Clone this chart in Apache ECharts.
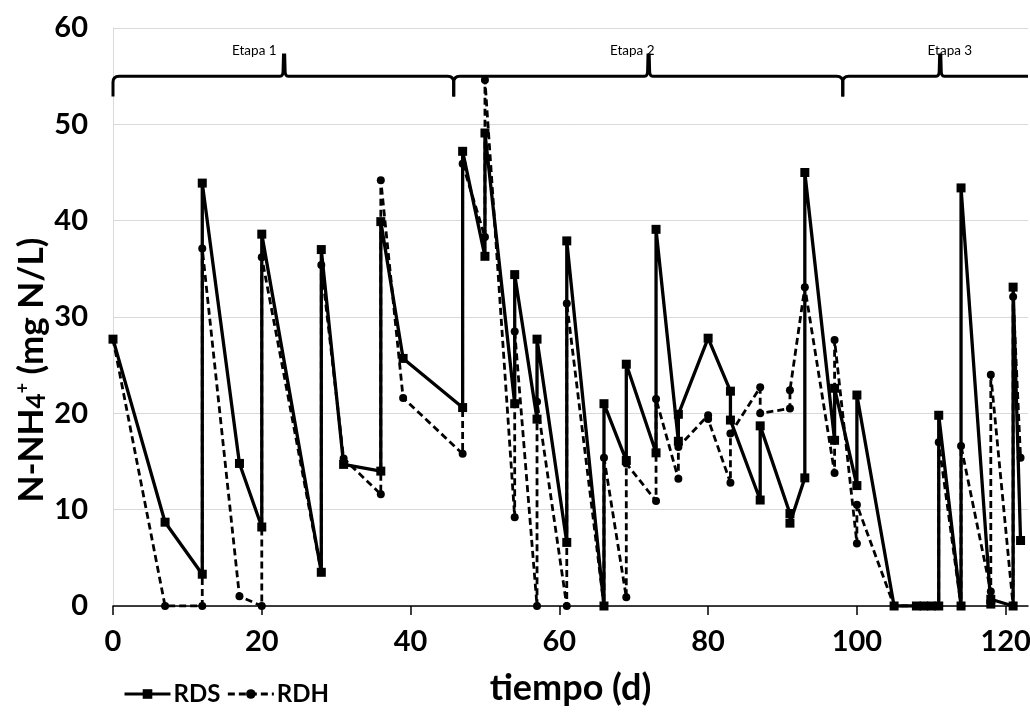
<!DOCTYPE html>
<html>
<head>
<meta charset="utf-8">
<script src="https://cdn.jsdelivr.net/npm/echarts@6/dist/echarts.min.js"></script>
<style>
html,body{margin:0;padding:0;background:#fff;}
#chart{width:1030px;height:713px;}
</style>
</head>
<body>
<div id="chart"></div>
<script>
// ---- data ----
const rdsDays = [0,7,12,12,17,20,20,28,28,31,36,36,39,47,47,50,50,54,54,57,57,61,61,66,66,69,69,73,73,76,76,80,83,83,87,87,91,91,93,93,97,97,100,100,105,108,109,110,111,111,114,114,118,118,121,121,122];
const rdsValues = [27.7,8.7,3.3,43.9,14.8,8.2,38.6,3.5,37.0,14.7,14.0,39.9,25.7,20.6,47.2,36.3,49.1,21.0,34.4,19.4,27.7,6.6,37.9,0,21.0,15.1,25.1,15.9,39.1,17.1,19.9,27.8,22.3,19.3,11.0,18.7,9.6,8.6,13.3,45.0,17.2,22.6,12.5,21.9,0,0,0,0,0,19.8,0,43.4,0.2,0.7,0,33.1,6.8];
const rdhDays = [0,7,12,12,17,20,20,28,28,31,36,36,39,47,47,50,50,54,54,57,57,61,61,66,66,69,69,73,73,76,76,80,80,83,83,87,87,91,91,93,97,97,100,100,105,108,109,110,111,111,114,114,118,118,121,121,122];
const rdhValues = [27.7,0,0,37.1,1.0,0,36.2,3.5,35.4,15.3,11.6,44.2,21.6,15.8,45.9,38.3,54.6,9.2,28.5,0,21.2,0,31.4,0,15.4,0.9,14.8,10.9,21.5,13.2,16.5,19.8,19.4,12.8,17.9,22.7,20.0,20.5,22.4,33.1,13.8,27.6,6.5,10.5,0,0,0,0,0,17.0,0,16.6,1.5,24.0,0,32.1,15.4];
const xTicks = [0,20,40,60,80,100,120];
const yTicks = [0,10,20,30,40,50,60];
// stage braces (days)
const stageNames = ['Etapa 1','Etapa 2','Etapa 3'];
const stageStart = [0,45.8,98.1];
const stageMid = [23.0,72.0,111.2];
const stageEnd = [45.8,98.1,123];
const stageLabelX = [19.0,69.8,112.5];
const braceLevel = 55, braceHook = 52.9, braceTip = 57.2, stageLabelY = 57.6;

const FONT = 'Lato, "Open Sans", sans-serif';
const zip = (a,b)=>a.map((v,i)=>[v,b[i]]);

const chart = echarts.init(document.getElementById('chart'));
chart.setOption({
  animation:false,
  backgroundColor:'#fff',
  grid:{left:113,right:2,top:28,bottom:107,containLabel:false,outerBoundsMode:'none'},
  legend:{
    left:118, top:677, itemWidth:46, itemHeight:12, itemGap:6,
    lineStyle:{width:3},
    textStyle:{fontSize:24,fontWeight:'bold',color:'#000',fontFamily:FONT,padding:[0,0,0,-2]},
    data:['RDS','RDH']
  },
  xAxis:{
    type:'value', min:0, max:123, interval:20,
    name:'tiempo (d)', nameLocation:'middle', nameGap:64,
    nameTextStyle:{fontSize:36,fontWeight:'bold',color:'#000',fontFamily:FONT},
    axisLine:{show:true,lineStyle:{color:'#000',width:1.5}},
    axisTick:{show:true,length:9,lineStyle:{color:'#000',width:1.5},customValues:xTicks},
    axisLabel:{fontSize:29,fontWeight:'bold',color:'#000',fontFamily:FONT,margin:21,customValues:xTicks},
    splitLine:{show:false}
  },
  yAxis:{
    type:'value', min:0, max:60, interval:10,
    axisLine:{show:true,lineStyle:{color:'#d9d9d9',width:1}},
    axisTick:{show:false},
    axisLabel:{fontSize:29,fontWeight:'bold',color:'#000',fontFamily:FONT,margin:25,customValues:yTicks},
    splitLine:{show:true,lineStyle:{color:'#d9d9d9',width:1}}
  },
  graphic:[{
    type:'text', x:32, y:370, rotation:Math.PI/2,
    style:{
      text:'{n|N-NH}{s|4}{p|+}{n| (mg N/L)}',
      align:'center', verticalAlign:'middle', fill:'#000',
      rich:{
        n:{fontSize:35,fontWeight:'bold',fontFamily:FONT,fill:'#000'},
        s:{fontSize:26,fontWeight:'bold',fontFamily:FONT,fill:'#000',verticalAlign:'bottom'},
        p:{fontSize:18,fontWeight:'bold',fontFamily:FONT,fill:'#000',verticalAlign:'top'}
      }
    }
  }],
  series:[
    {
      name:'RDS', type:'line', data:zip(rdsDays,rdsValues),
      symbol:'rect', symbolSize:9, showAllSymbol:true,
      lineStyle:{color:'#000',width:3.3,type:'solid'},
      itemStyle:{color:'#000'}, z:3
    },
    {
      name:'RDH', type:'line', data:zip(rdhDays,rdhValues),
      symbol:'circle', symbolSize:8, showAllSymbol:true,
      lineStyle:{color:'#000',width:2.8,type:[7,4]},
      itemStyle:{color:'#000'}, z:4
    },
    {
      type:'custom', silent:true, z:5,
      data:stageNames.map((n,i)=>[stageStart[i],stageMid[i],stageEnd[i],stageLabelX[i]]),
      renderItem:function(params,api){
        const i = params.dataIndex;
        const x0 = api.coord([api.value(0),braceLevel])[0];
        const xm = api.coord([api.value(1),braceLevel])[0];
        const x1 = api.coord([api.value(2),braceLevel])[0];
        const xl = api.coord([api.value(3),braceLevel])[0];
        const yL = api.coord([0,braceLevel])[1];
        const yH = api.coord([0,braceHook])[1];
        const yT = api.coord([0,braceTip])[1];
        const yLab = api.coord([0,stageLabelY])[1];
        const r = 6;
        let d = 'M'+x0+' '+yH+' L'+x0+' '+(yL+r)+' Q'+x0+' '+yL+' '+(x0+r)+' '+yL;
        d += ' L'+(xm-4)+' '+yL+' Q'+(xm-1)+' '+yL+' '+(xm-1)+' '+(yL-6)+' L'+(xm-0.6)+' '+yT+' L'+(xm+0.6)+' '+yT+' L'+(xm+1)+' '+(yL-6)+' Q'+(xm+1)+' '+yL+' '+(xm+4)+' '+yL;
        if (i < stageNames.length-1) {
          d += ' L'+(x1-r)+' '+yL+' Q'+x1+' '+yL+' '+x1+' '+(yL+r)+' L'+x1+' '+yH;
        } else {
          d += ' L'+x1+' '+yL;
        }
        return {type:'group',children:[
          {type:'path',shape:{pathData:d},style:{fill:null,stroke:'#000',lineWidth:3}},
          {type:'text',x:xl,y:yLab,style:{text:stageNames[i],fill:'#000',font:'13.5px '+FONT,align:'center',verticalAlign:'middle'}}
        ]};
      }
    }
  ]
});
</script>
</body>
</html>
